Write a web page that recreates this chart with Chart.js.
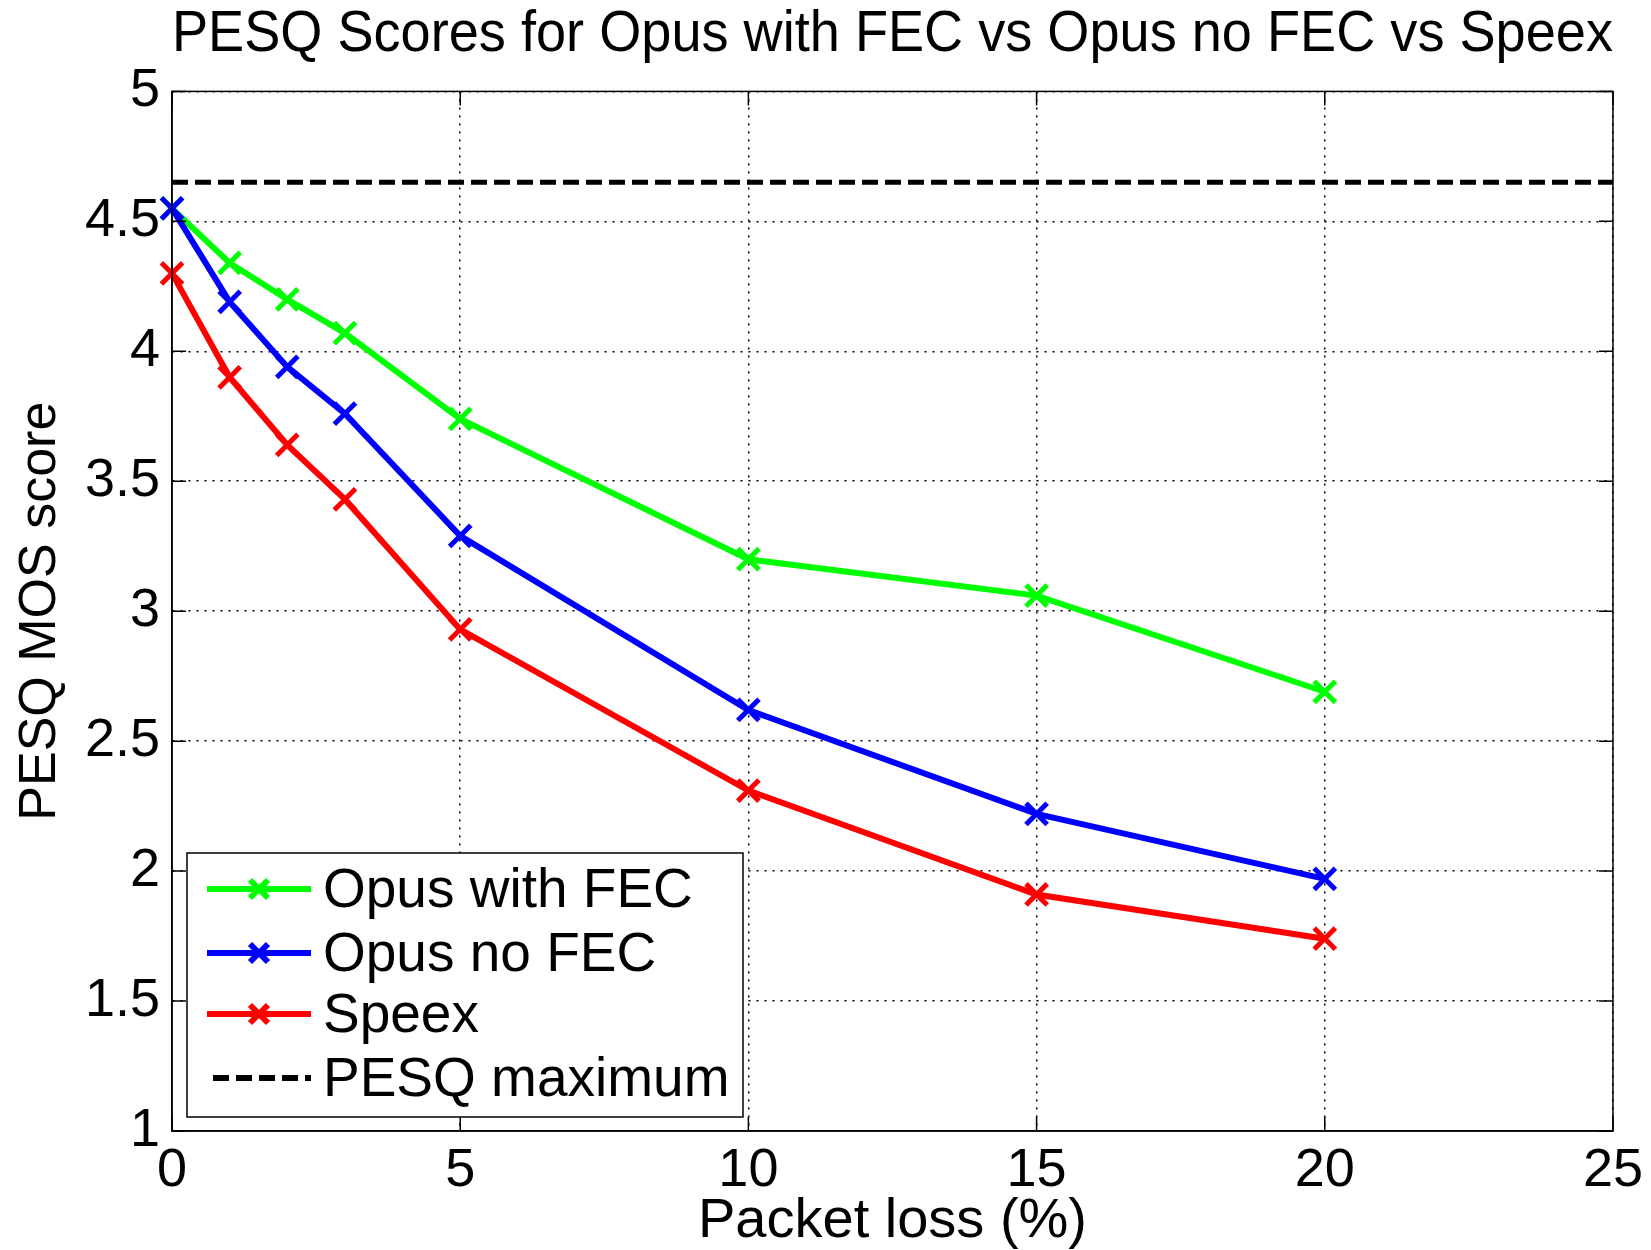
<!DOCTYPE html>
<html lang="en">
<head>
    <meta charset="UTF-8">
    <title>PESQ Scores</title>
    <script src="https://cdn.jsdelivr.net/npm/chart.js"></script>
    <style>
        html, body { margin: 0; padding: 0; background: #fff; }
        #wrap { width: 1651px; height: 1250px; }
    </style>
</head>
<body>
    <div id="wrap"><canvas id="chart"></canvas></div>

    <script>
        // data
        const packetLoss = [0, 1, 2, 3, 5, 10, 15, 20];
        const opusFec = [4.55, 4.34, 4.20, 4.07, 3.74, 3.20, 3.06, 2.69];
        const opusNoFec = [4.55, 4.19, 3.94, 3.76, 3.29, 2.62, 2.22, 1.97];
        const speex = [4.30, 3.90, 3.64, 3.43, 2.93, 2.31, 1.91, 1.74];
        const pesqMaxX = [0, 25];
        const pesqMax = 4.65;
        const xTicks = [0, 5, 10, 15, 20, 25];
        const yTicks = [1, 1.5, 2, 2.5, 3, 3.5, 4, 4.5, 5];

        const FONT = '"Liberation Sans", Arial, sans-serif';

        function pts(xs, ys) {
            return xs.map((x, i) => ({ x: x, y: ys[i] }));
        }

        function series(label, color, values, order) {
            return {
                label: label,
                data: pts(packetLoss, values),
                borderColor: color,
                backgroundColor: color,
                borderWidth: 6,
                pointStyle: 'crossRot',
                pointRadius: 15,
                pointBorderWidth: 5,
                pointBorderColor: color,
                tension: 0,
                clip: false,
                order: order
            };
        }

        // inward tick marks on all four sides + box (MATLAB style)
        const boxTicks = {
            id: 'boxTicks',
            afterDatasetsDraw(chart) {
                const { ctx, chartArea: a, scales } = chart;
                ctx.save();
                ctx.strokeStyle = '#000';
                ctx.lineWidth = 1.5;
                ctx.beginPath();
                xTicks.forEach(v => {
                    const px = scales.x.getPixelForValue(v);
                    ctx.moveTo(px, a.bottom); ctx.lineTo(px, a.bottom - 14);
                    ctx.moveTo(px, a.top); ctx.lineTo(px, a.top + 14);
                });
                yTicks.forEach(v => {
                    const py = scales.y.getPixelForValue(v);
                    ctx.moveTo(a.left, py); ctx.lineTo(a.left + 14, py);
                    ctx.moveTo(a.right, py); ctx.lineTo(a.right - 14, py);
                });
                ctx.stroke();
                ctx.strokeRect(a.left, a.top, a.right - a.left, a.bottom - a.top);
                ctx.restore();
            }
        };

        // legend box inside the axes, lower left
        const boxLegend = {
            id: 'boxLegend',
            afterDraw(chart) {
                const ctx = chart.ctx;
                const left = 187, top = 853, w = 556, h = 264;
                ctx.save();
                ctx.fillStyle = '#fff';
                ctx.fillRect(left, top, w, h);
                ctx.strokeStyle = '#000';
                ctx.lineWidth = 1.5;
                ctx.strokeRect(left, top, w, h);

                const rows = [889, 953, 1014, 1078];
                chart.data.datasets.forEach((ds, i) => {
                    const y = rows[i];
                    ctx.strokeStyle = ds.borderColor;
                    ctx.lineWidth = 6;
                    ctx.setLineDash(ds.borderDash || []);
                    ctx.beginPath();
                    ctx.moveTo(ds.borderDash ? 213 : 207, y);
                    ctx.lineTo(311, y);
                    ctx.stroke();
                    ctx.setLineDash([]);
                    if (ds.pointRadius > 0) {
                        ctx.lineWidth = 6;
                        const d = 9;
                        ctx.beginPath();
                        ctx.moveTo(259 - d, y - d); ctx.lineTo(259 + d, y + d);
                        ctx.moveTo(259 - d, y + d); ctx.lineTo(259 + d, y - d);
                        ctx.stroke();
                    }
                    ctx.fillStyle = '#000';
                    ctx.font = '55px ' + FONT;
                    ctx.textBaseline = 'middle';
                    ctx.textAlign = 'left';
                    ctx.fillText(ds.label, 323, y + 3);
                });
                ctx.restore();
            }
        };

        const ctx = document.getElementById('chart').getContext('2d');
        const chart = new Chart(ctx, {
            type: 'line',
            data: {
                datasets: [
                    series('Opus with FEC', '#00ff00', opusFec, 4),
                    series('Opus no FEC', '#0000ff', opusNoFec, 3),
                    series('Speex', '#ff0000', speex, 2),
                    {
                        label: 'PESQ maximum',
                        data: pts(pesqMaxX, [pesqMax, pesqMax]),
                        borderColor: '#000',
                        borderWidth: 5,
                        borderDash: [16, 7],
                        pointRadius: 0,
                        order: 1
                    }
                ]
            },
            options: {
                responsive: true,
                maintainAspectRatio: false,
                animation: false,
                events: [],
                layout: { padding: { left: 0, right: 35, top: 0, bottom: 0 } },
                plugins: {
                    legend: { display: false },
                    tooltip: { enabled: false },
                    title: {
                        display: true,
                        text: 'PESQ Scores for Opus with FEC vs Opus no FEC vs Speex',
                        color: '#000',
                        fullSize: false,
                        font: { family: FONT, size: 57, weight: 'normal', lineHeight: 1.2 },
                        padding: { top: 1, bottom: 22 }
                    }
                },
                scales: {
                    x: {
                        type: 'linear',
                        min: 0,
                        max: 25,
                        afterFit: s => { s.height = 119; },
                        afterBuildTicks: s => { s.ticks = xTicks.map(v => ({ value: v })); },
                        ticks: {
                            color: '#000',
                            font: { family: FONT, size: 54 },
                            padding: 8,
                            maxRotation: 0,
                            callback: v => String(v)
                        },
                        grid: {
                            color: '#000',
                            lineWidth: 1.5,
                            drawTicks: false
                        },
                        border: { display: true, color: '#000', width: 1.5, dash: [2, 6] },
                        title: {
                            display: true,
                            text: 'Packet loss (%)',
                            color: '#000',
                            font: { family: FONT, size: 56, lineHeight: 1.1 },
                            padding: { top: 0, bottom: -2 }
                        }
                    },
                    y: {
                        type: 'linear',
                        min: 1,
                        max: 5,
                        afterFit: s => { s.width = 172; },
                        afterBuildTicks: s => { s.ticks = yTicks.map(v => ({ value: v })); },
                        ticks: {
                            color: '#000',
                            font: { family: FONT, size: 54 },
                            padding: 12,
                            callback: v => String(v)
                        },
                        grid: {
                            color: '#000',
                            lineWidth: 1.5,
                            drawTicks: false
                        },
                        border: { display: true, color: '#000', width: 1.5, dash: [2, 6] },
                        title: {
                            display: true,
                            text: 'PESQ MOS score',
                            color: '#000',
                            font: { family: FONT, size: 52, lineHeight: 1.2 },
                            padding: { top: 9, bottom: 0 }
                        }
                    }
                }
            },
            plugins: [boxTicks, boxLegend]
        });
    </script>
</body>
</html>
